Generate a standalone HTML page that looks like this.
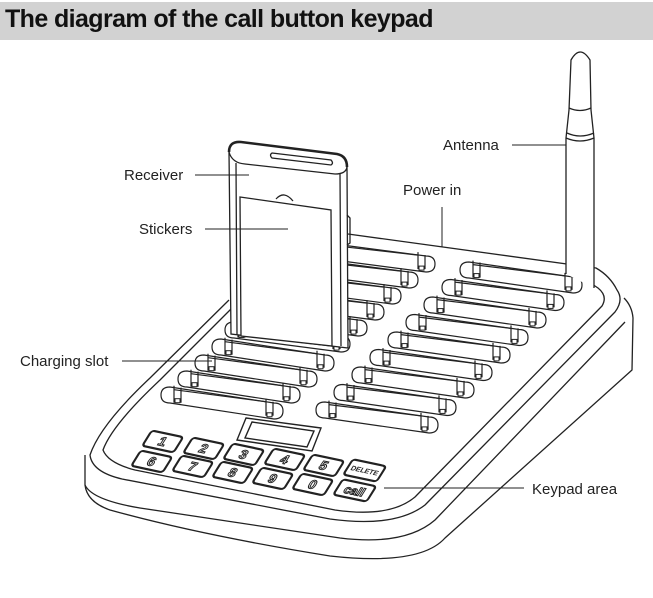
<!DOCTYPE html>
<html><head><meta charset="utf-8"><style>
html,body{margin:0;padding:0;background:#fff;}
body{width:653px;height:598px;position:relative;overflow:hidden;font-family:"Liberation Sans",Arial,sans-serif;}
#hdr{position:absolute;left:0;top:2px;width:653px;height:38px;background:#d2d2d2;}
#hdr span{position:absolute;left:5px;top:3px;font-weight:bold;font-size:25px;color:#111;letter-spacing:-0.6px;}
svg{position:absolute;left:0;top:0;}
</style></head><body>
<div id="hdr"><span>The diagram of the call button keypad</span></div>
<svg width="653" height="598" viewBox="0 0 653 598">
<g fill="none" stroke="#222" stroke-width="1.3" stroke-linejoin="round">
<path d="M85,455 L85,485 Q87,502 110,510 Q200,535 330,556 Q420,566 445,538 L632,370 L633,318 Q632,306 624,298"/>
<path d="M85,485 Q92,500 140,508 L340,538 Q405,546 435,520 L625,322"/>
<path d="M229,300 L150,378 Q100,425 90,455 Q92,472 122,479 L330,519 Q395,528 425,505 L615,312 Q624,300 617,290 Q610,276 596,268 L348,234"/>
<path d="M232,308 L160,380 Q112,425 103,450 Q108,463 135,470 L335,510 Q390,518 415,497 L602,306 Q608,296 598,288 Q590,282 580,280"/>
</g>
<g id="slots" fill="#fff" stroke="#222" stroke-width="1.2"></g>
<g fill="#fff" stroke="#222" stroke-width="1.3">
<path d="M566,274 L566,138 L569,110 L571,60 Q580,44 590,60 L591,110 L594,138 L594,288"/>
<path d="M569,108 Q580,113 591,108 M567,133 Q580,139 594,133 M566,138 Q580,144 594,138" fill="none"/>
</g>
<g fill="#fff" stroke="#222" stroke-width="1.3">
<path d="M229,152 Q229,141 241,142 L337,154 Q347,156 347,167 L348,348 L231,334 Z"/>
<path d="M229,152 Q229,141 241,142 L337,154 Q347,156 347,167" fill="none" stroke-width="2.6"/>
<path d="M229,152 Q232,163 245,164 L335,174 Q346,174 347,167" fill="none"/>
<path d="M236,163 L237,335 M340,173 L341,346" fill="none"/>
<path d="M272,153 L331,160 Q334,163 331,165 L272,158 Q269,155 272,153 Z"/>
<path d="M240,197 L331,210 L332,346 L241,336 Z"/>
<path d="M276,199 Q284,190 293,201" fill="none"/>
<path d="M347,215 L350,218 L350,243 L347,245" fill="none"/>
</g>
<g fill="#fff" stroke="#222" stroke-width="1.4">
<path d="M246,418 L321,428 L312,451 L237,440 Z"/>
<path d="M252,422 L314,431 L307,447 L245,438 Z"/>
</g>
<g id="keys" font-family="Liberation Sans, Arial, sans-serif" font-weight="bold" text-anchor="middle">
<g transform="translate(163,441) rotate(12) skewX(-20)"><rect x="-16" y="-8" width="32" height="17" rx="3" fill="#fff" stroke="#222" stroke-width="2.2"/><text y="5" font-size="13" fill="#fff" stroke="#222" stroke-width="1">1</text></g>
<g transform="translate(204,448) rotate(12) skewX(-20)"><rect x="-16" y="-8" width="32" height="17" rx="3" fill="#fff" stroke="#222" stroke-width="2.2"/><text y="5" font-size="13" fill="#fff" stroke="#222" stroke-width="1">2</text></g>
<g transform="translate(244,454) rotate(12) skewX(-20)"><rect x="-16" y="-8" width="32" height="17" rx="3" fill="#fff" stroke="#222" stroke-width="2.2"/><text y="5" font-size="13" fill="#fff" stroke="#222" stroke-width="1">3</text></g>
<g transform="translate(285,459) rotate(12) skewX(-20)"><rect x="-16" y="-8" width="32" height="17" rx="3" fill="#fff" stroke="#222" stroke-width="2.2"/><text y="5" font-size="13" fill="#fff" stroke="#222" stroke-width="1">4</text></g>
<g transform="translate(324,465) rotate(12) skewX(-20)"><rect x="-16" y="-8" width="32" height="17" rx="3" fill="#fff" stroke="#222" stroke-width="2.2"/><text y="5" font-size="13" fill="#fff" stroke="#222" stroke-width="1">5</text></g>
<g transform="translate(365,470) rotate(12) skewX(-20)"><rect x="-17" y="-8" width="34" height="17" rx="3" fill="#fff" stroke="#222" stroke-width="2.2"/><text y="3" font-size="7" fill="#222">DELETE</text></g>
<g transform="translate(152,461) rotate(12) skewX(-20)"><rect x="-16" y="-8" width="32" height="17" rx="3" fill="#fff" stroke="#222" stroke-width="2.2"/><text y="5" font-size="13" fill="#fff" stroke="#222" stroke-width="1">6</text></g>
<g transform="translate(193,466) rotate(12) skewX(-20)"><rect x="-16" y="-8" width="32" height="17" rx="3" fill="#fff" stroke="#222" stroke-width="2.2"/><text y="5" font-size="13" fill="#fff" stroke="#222" stroke-width="1">7</text></g>
<g transform="translate(233,472) rotate(12) skewX(-20)"><rect x="-16" y="-8" width="32" height="17" rx="3" fill="#fff" stroke="#222" stroke-width="2.2"/><text y="5" font-size="13" fill="#fff" stroke="#222" stroke-width="1">8</text></g>
<g transform="translate(273,478) rotate(12) skewX(-20)"><rect x="-16" y="-8" width="32" height="17" rx="3" fill="#fff" stroke="#222" stroke-width="2.2"/><text y="5" font-size="13" fill="#fff" stroke="#222" stroke-width="1">9</text></g>
<g transform="translate(313,484) rotate(12) skewX(-20)"><rect x="-16" y="-8" width="32" height="17" rx="3" fill="#fff" stroke="#222" stroke-width="2.2"/><text y="5" font-size="13" fill="#fff" stroke="#222" stroke-width="1">0</text></g>
<g transform="translate(355,490) rotate(12) skewX(-20)"><rect x="-17" y="-8" width="34" height="17" rx="3" fill="#fff" stroke="#222" stroke-width="2.2"/><text y="5" font-size="12" fill="#fff" stroke="#222" stroke-width="1">call</text></g>
</g>
<g stroke="#222" stroke-width="1">
<line x1="512" y1="145" x2="566" y2="145"/>
<line x1="195" y1="175" x2="249" y2="175"/>
<line x1="442" y1="207" x2="442" y2="247"/>
<line x1="205" y1="229" x2="288" y2="229"/>
<line x1="122" y1="361" x2="212" y2="361"/>
<line x1="384" y1="488" x2="524" y2="488"/>
</g>
<g font-family="Liberation Sans, Arial, sans-serif" font-size="15" fill="#222">
<text x="443" y="150">Antenna</text>
<text x="124" y="180">Receiver</text>
<text x="403" y="195">Power in</text>
<text x="139" y="234">Stickers</text>
<text x="20" y="366">Charging slot</text>
<text x="532" y="494">Keypad area</text>
</g>
</svg>
<script>
(function(){
var g=document.getElementById('slots');var s='';
function slot(x,y,L,dy){
 var h=16;
 s+='<path d="M'+(x+9)+','+y+' L'+(x+L-9)+','+(y+dy)+' Q'+(x+L)+','+(y+dy)+' '+(x+L)+','+(y+dy+h/2)+' Q'+(x+L)+','+(y+dy+h)+' '+(x+L-9)+','+(y+dy+h)+' L'+(x+9)+','+(y+h)+' Q'+x+','+(y+h)+' '+x+','+(y+h/2)+' Q'+x+','+y+' '+(x+9)+','+y+' Z"/>';
 var a=x+13,b=x+L-17,t=dy/L;
 s+='<path fill="none" d="M'+a+','+(y-3+(a-x)*t)+' L'+a+','+(y+h-2+(a-x)*t)+' M'+(a+7)+','+(y-2+(a+7-x)*t)+' L'+(a+7)+','+(y+h-2+(a-x)*t)+' M'+a+','+(y+1+(a-x)*t)+' L'+b+','+(y+1+(b-x)*t)+' M'+b+','+(y-2+(b-x)*t)+' L'+b+','+(y+h-1+(b-x)*t)+' M'+(b+7)+','+(y+1+(b-x)*t)+' L'+(b+7)+','+(y+h-1+(b-x)*t)+'"/>';
 s+='<rect x="'+(a+1)+'" y="'+(y+h-6+(a-x)*t)+'" width="5" height="4" fill="#fff" stroke-width="1"/>';
 s+='<rect x="'+(b+1)+'" y="'+(y+h-4+(b-x)*t)+'" width="5" height="4" fill="#fff" stroke-width="1"/>';
}
for(var k=0;k<6;k++) slot(310-17*k,242+16*k,125,14);
for(var k=0;k<9;k++) slot(460-18*k,262+17.5*k,122,15);
for(var k=0;k<4;k++) slot(212-17*k,339+16*k,122,16);
g.innerHTML=s;
})();
</script>
</body></html>
